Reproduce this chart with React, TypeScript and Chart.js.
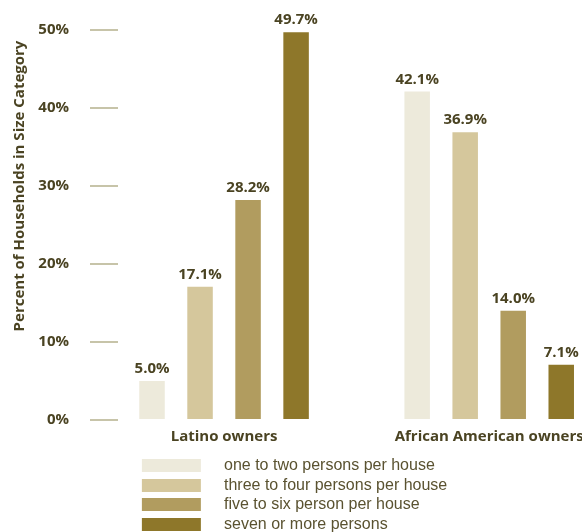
import React, { useEffect, useRef } from "react";
import { Chart, registerables } from "chart.js";

Chart.register(...registerables);

const groupLabels = ["Latino owners", "African American owners"];
const seriesNames = [
  "one to two persons per house",
  "three to four persons per house",
  "five to six person per house",
  "seven or more persons",
];
const oneToTwo = [5.0, 42.1];
const threeToFour = [17.1, 36.9];
const fiveToSix = [28.2, 14.0];
const sevenPlus = [49.7, 7.1];
const seriesColors = ["#edeadb", "#d5c79c", "#b19c5f", "#8e772a"];
const yTicks = [0, 10, 20, 30, 40, 50];

const TEXT_DARK = "#4a4322";
const BOLD_FONT = "'Open Sans', 'Noto Sans', sans-serif";

function makeSwatch(color: string) {
  const c = document.createElement("canvas");
  c.width = 212;
  c.height = 13;
  const ctx = c.getContext("2d")!;
  ctx.fillStyle = color;
  ctx.fillRect(138, 0, 59, 13);
  return c;
}

const valueLabelPlugin = {
  id: "valueLabels",
  afterDatasetsDraw(chart: any) {
    const ctx = chart.ctx;
    ctx.save();
    ctx.font = `bold 15px ${BOLD_FONT}`;
    ctx.fillStyle = TEXT_DARK;
    ctx.textAlign = "center";
    ctx.textBaseline = "alphabetic";
    chart.data.datasets.forEach((ds: any, di: number) => {
      const meta = chart.getDatasetMeta(di);
      meta.data.forEach((bar: any, i: number) => {
        const v = ds.data[i].y;
        ctx.fillText(v.toFixed(1) + "%", bar.x, bar.y - 8);
      });
    });
    ctx.restore();
  },
};

const yTitlePlugin = {
  id: "yTitle",
  afterDraw(chart: any) {
    const { ctx, chartArea } = chart;
    ctx.save();
    ctx.translate(20, chartArea.top + (chartArea.bottom - chartArea.top) * 0.4);
    ctx.rotate(-Math.PI / 2);
    ctx.font = `bold 15px ${BOLD_FONT}`;
    ctx.fillStyle = TEXT_DARK;
    ctx.textAlign = "center";
    ctx.textBaseline = "middle";
    ctx.fillText("Percent of Households in Size Category", 0, 0);
    ctx.restore();
  },
};

export default function App() {
  const ref = useRef<HTMLCanvasElement | null>(null);

  useEffect(() => {
    document.body.style.margin = "0";
    const series = [oneToTwo, threeToFour, fiveToSix, sevenPlus];
    const chart = new Chart(ref.current!, {
      type: "bar",
      data: {
        datasets: series.map((vals, k) => ({
          label: seriesNames[k],
          data: vals.map((v, i) => ({ x: i, y: v })),
          backgroundColor: seriesColors[k],
          borderWidth: 0,
          categoryPercentage: 0.7245,
          barPercentage: 0.531,
        })),
      },
      options: {
        responsive: false,
        animation: false,
        devicePixelRatio: 1,
        layout: { padding: { top: 28.6, right: 0, bottom: -10.5, left: 0 } },
        scales: {
          x: {
            type: "linear",
            min: -0.4,
            max: 1.35,
            offset: false,
            grid: { display: false, drawTicks: false, offset: false },
            border: { display: false },
            afterBuildTicks: (scale: any) => {
              scale.ticks = groupLabels.map((_, i) => ({ value: i }));
            },
            afterFit: (scale: any) => {
              scale.paddingLeft = 0;
              scale.paddingRight = 0;
              scale.height = 33.8;
            },
            ticks: {
              autoSkip: false,
              maxRotation: 0,
              padding: 8,
              color: TEXT_DARK,
              font: { family: BOLD_FONT, size: 15, weight: "bold" },
              callback: (v: any) => groupLabels[v] ?? "",
            },
          },
          y: {
            min: 0,
            max: 50,
            afterBuildTicks: (scale: any) => {
              scale.ticks = yTicks.map((v) => ({ value: v }));
            },
            afterFit: (scale: any) => {
              scale.width = 118;
            },
            grid: {
              drawOnChartArea: false,
              drawTicks: true,
              tickLength: 28,
              color: "#c7c4a9",
              lineWidth: 2,
            },
            border: { display: false },
            ticks: {
              padding: 21,
              color: TEXT_DARK,
              font: { family: BOLD_FONT, size: 15, weight: "bold" },
              callback: (v: any) => v + "%",
            },
          },
        },
        plugins: {
          tooltip: { enabled: false },
          legend: {
            position: "bottom",
            align: "start",
            labels: {
              usePointStyle: true,
              pointStyleWidth: 212.33,
              padding: 3.67,
              color: "#5a5230",
              font: { family: "'Liberation Sans', Arial, sans-serif", size: 16 },
              generateLabels: (ch: any) =>
                ch.data.datasets.map((ds: any, i: number) => ({
                  text: ds.label,
                  fillStyle: ds.backgroundColor,
                  strokeStyle: "rgba(0,0,0,0)",
                  lineWidth: 0,
                  hidden: false,
                  datasetIndex: i,
                  pointStyle: makeSwatch(seriesColors[i]),
                  fontColor: "#5a5230",
                })),
            },
          },
        },
      },
      plugins: [valueLabelPlugin, yTitlePlugin],
    } as any);
    return () => chart.destroy();
  }, []);

  return (
    <div style={{ width: 582, height: 532 }}>
      <canvas ref={ref} width={582} height={532} />
    </div>
  );
}
